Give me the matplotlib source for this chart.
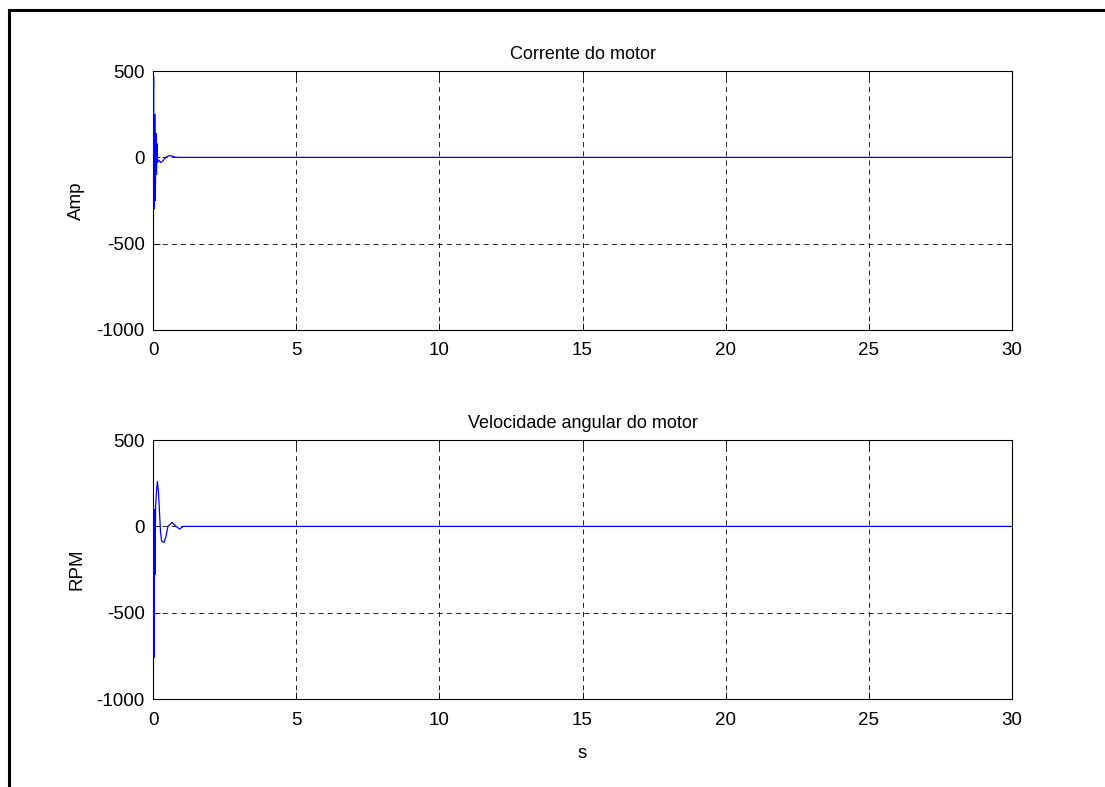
import matplotlib
matplotlib.use('Agg')
import matplotlib.pyplot as plt
from matplotlib.lines import Line2D

plt.rcParams['font.family'] = ['Liberation Sans', 'DejaVu Sans']
plt.rcParams['font.size'] = 13.5
plt.rcParams['axes.unicode_minus'] = False
plt.rcParams['path.simplify'] = False

# Motor current transient (A)
t_corrente = [0, 0.02, 0.04, 0.06, 0.08, 0.10, 0.12, 0.14, 0.16, 0.2, 0.27,
              0.35, 0.45, 0.55, 0.65, 0.75, 0.9, 30]
corrente = [0, 470, -300, 250, -250, 140, -100, 80, -30, -15, -30,
            -20, 0, 10, 8, 2, 0, 0]

# Motor angular speed transient (RPM)
t_velocidade = [0, 0.015, 0.035, 0.05, 0.07, 0.09, 0.12, 0.15, 0.19, 0.22, 0.26,
                0.3, 0.38, 0.45, 0.52, 0.66, 0.8, 0.93, 1.05, 30]
velocidade = [0, 120, -760, 100, -280, 120, 200, 262, 200, 100, -30,
              -85, -93, -60, 0, 23, 0, -15, 0, 0]

xticks = [0, 5, 10, 15, 20, 25, 30]
yticks = [-1000, -500, 0, 500]

fig = plt.figure(figsize=(11.05, 7.87), dpi=100)
ax1 = fig.add_axes([0.1385, 0.5807, 0.7774, 0.329])
ax2 = fig.add_axes([0.1385, 0.1118, 0.7774, 0.329])

for ax, t, y, titulo, ylab in [(ax1, t_corrente, corrente, 'Corrente do motor', 'Amp'),
                               (ax2, t_velocidade, velocidade, 'Velocidade angular do motor', 'RPM')]:
    # drawn above the spines so the spike at t=0 stays visible
    ax.plot(t, y, color='#0000ff', linewidth=0.9, zorder=3, solid_joinstyle='miter')
    ax.set_xlim(0, 30)
    ax.set_ylim(-1000, 500)
    ax.set_xticks(xticks)
    ax.set_yticks(yticks)
    ax.grid(True, color='k', linestyle=(0, (6, 5)), linewidth=0.6)
    ax.tick_params(direction='in', top=True, right=True, length=5, width=0.6)
    ax.tick_params(axis='x', pad=9)
    ax.tick_params(axis='y', pad=6)
    for s in ax.spines.values():
        s.set_linewidth(0.8)
    ax.set_title(titulo, fontsize=13, pad=9)
    ax.set_ylabel(ylab, labelpad=8)

ax2.set_xlabel('s', labelpad=12)

# outer frame
fig.add_artist(Line2D([0.0078, 0.0078], [0.0, 0.987], color='k', linewidth=2.2,
                      transform=fig.transFigure))
fig.add_artist(Line2D([0.0078, 1.0], [0.987, 0.987], color='k', linewidth=2.2,
                      transform=fig.transFigure))

fig.savefig('out.png', dpi=100)
